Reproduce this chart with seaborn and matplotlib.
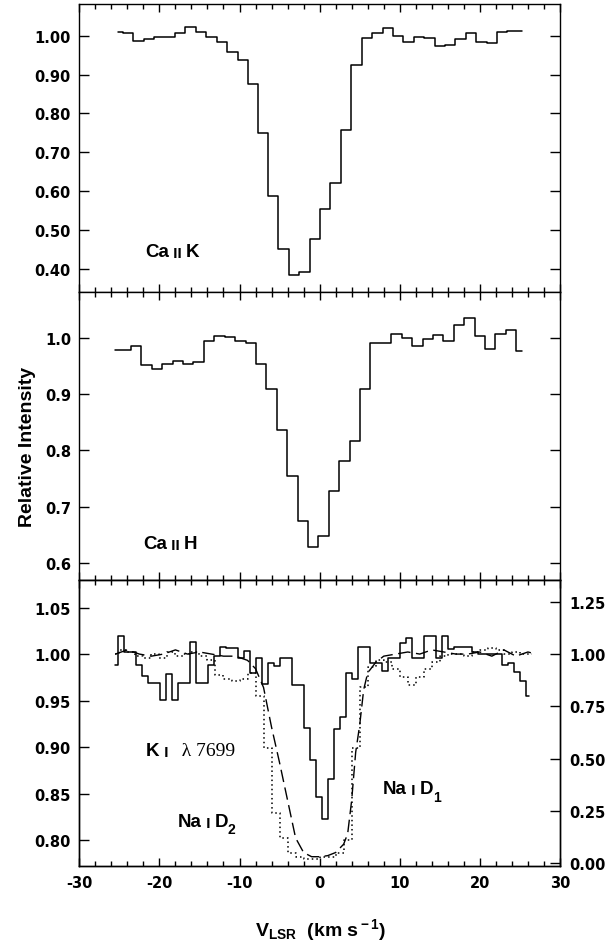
import pandas as pd
import seaborn as sns
import matplotlib.pyplot as plt
from matplotlib.ticker import MultipleLocator, FormatStrFormatter

# Ca II K spectrum (top panel)
vel_k = [-25.2, -23.9, -22.6, -21.3, -20.0, -18.7, -17.4, -16.1, -14.8, -13.5,
         -12.2, -10.9, -9.6, -8.4, -7.1, -5.8, -4.5, -3.2, -1.9, -0.6,
         0.7, 2.0, 3.3, 4.6, 5.9, 7.2, 8.5, 9.8, 11.1, 12.4,
         13.7, 15.0, 16.3, 17.6, 18.9, 20.2, 21.5, 22.8, 24.1, 25.3]
ca_k = [1.009, 1.006, 0.987, 0.991, 0.996, 0.996, 1.007, 1.023, 1.009, 0.997,
        0.983, 0.957, 0.938, 0.876, 0.751, 0.589, 0.451, 0.385, 0.391, 0.477,
        0.554, 0.620, 0.757, 0.925, 0.993, 1.007, 1.019, 0.998, 0.983, 0.997,
        0.993, 0.973, 0.977, 0.991, 1.006, 0.985, 0.981, 1.009, 1.011, 1.011]

# Ca II H spectrum (middle panel)
vel_h = [-25.5, -24.2, -22.9, -21.6, -20.3, -19.0, -17.7, -16.4, -15.1, -13.8,
         -12.5, -11.2, -9.9, -8.6, -7.3, -6.0, -4.7, -3.4, -2.1, -0.8,
         0.5, 1.8, 3.1, 4.4, 5.7, 7.0, 8.3, 9.6, 10.9, 12.2,
         13.5, 14.8, 16.1, 17.4, 18.7, 20.0, 21.3, 22.6, 23.9, 25.2]
ca_h = [0.979, 0.979, 0.985, 0.952, 0.944, 0.953, 0.960, 0.954, 0.957, 0.994,
        1.004, 1.001, 0.995, 0.991, 0.953, 0.909, 0.837, 0.755, 0.675, 0.629,
        0.647, 0.727, 0.782, 0.817, 0.910, 0.992, 0.992, 1.007, 1.000, 0.986,
        0.999, 1.006, 0.994, 1.023, 1.035, 1.003, 0.980, 1.008, 1.015, 0.977]

# K I 7699 spectrum (bottom panel, left axis)
vel_ki = [-25.60, -24.85, -24.10, -23.35, -22.60, -21.85, -21.10, -20.35, -19.60, -18.85,
          -18.10, -17.35, -16.60, -15.85, -15.10, -14.35, -13.60, -12.85, -12.10, -11.35,
          -10.60, -9.85, -9.10, -8.35, -7.60, -6.85, -6.10, -5.35, -4.60, -3.85,
          -3.10, -2.35, -1.60, -0.85, -0.10, 0.65, 1.40, 2.15, 2.90, 3.65,
          4.40, 5.15, 5.90, 6.65, 7.40, 8.15, 8.90, 9.65, 10.40, 11.15,
          11.90, 12.65, 13.40, 14.15, 14.90, 15.65, 16.40, 17.15, 17.90, 18.65,
          19.40, 20.15, 20.90, 21.65, 22.40, 23.15, 23.90, 24.65, 25.40, 26.15]
k_i = [0.988, 1.019, 1.002, 1.002, 0.988, 0.977, 0.969, 0.969, 0.951, 0.979,
       0.951, 0.969, 0.969, 1.013, 0.969, 0.969, 0.988, 0.998, 1.008, 1.007,
       1.007, 0.996, 1.003, 0.980, 0.996, 0.968, 0.991, 0.987, 0.996, 0.996,
       0.967, 0.967, 0.921, 0.886, 0.846, 0.823, 0.866, 0.920, 0.932, 0.980,
       0.973, 1.008, 1.008, 0.991, 0.991, 0.982, 0.996, 0.996, 1.012, 1.017,
       0.996, 0.996, 1.020, 1.020, 0.996, 1.019, 1.005, 1.008, 1.008, 1.008,
       1.002, 1.000, 1.000, 1.000, 1.000, 0.988, 0.991, 0.981, 0.971, 0.955]

# Na I D2 (bottom panel, right axis, dotted)
vel_d2 = [-25.5, -24.5, -23.5, -22.5, -21.5, -20.5, -19.5, -18.5, -17.5, -16.5,
          -15.5, -14.5, -13.5, -12.5, -11.5, -10.5, -9.5, -8.5, -7.5, -6.5,
          -5.5, -4.5, -3.5, -2.5, -1.5, -0.5, 0.5, 1.5, 2.5, 3.5,
          4.5, 5.5, 6.5, 7.5, 8.5, 9.5, 10.5, 11.5, 12.5, 13.5,
          14.5, 15.5, 16.5, 17.5, 18.5, 19.5, 20.5, 21.5, 22.5, 23.5,
          24.5, 25.5, 26.5]
na_d2 = [1.00, 1.02, 1.01, 0.99, 0.98, 1.00, 0.98, 1.01, 0.99, 1.00,
         1.01, 0.99, 0.97, 0.90, 0.88, 0.87, 0.88, 0.91, 0.80, 0.55,
         0.24, 0.12, 0.05, 0.03, 0.02, 0.02, 0.03, 0.03, 0.05, 0.11,
         0.55, 0.84, 0.94, 0.97, 0.96, 0.93, 0.89, 0.85, 0.89, 0.93,
         0.96, 0.99, 1.00, 1.00, 0.99, 1.01, 1.02, 1.03, 1.02, 1.00,
         1.01, 1.00, 1.00]

# Na I D1 (bottom panel, right axis, long dash)
vel_d1 = [-25.5, -24.0, -22.5, -21.0, -19.5, -18.0, -16.5, -15.0, -13.5, -12.0,
          -10.5, -9.0, -8.0, -7.0, -6.0, -5.0, -4.0, -3.0, -2.0, -1.0,
          0.0, 1.0, 2.0, 3.0, 3.5, 4.0, 4.5, 5.0, 5.5, 6.0,
          7.0, 8.0, 9.5, 11.0, 12.5, 14.0, 15.5, 17.0, 18.5, 20.0,
          21.5, 23.0, 24.5, 26.0, 27.0]
na_d1 = [1.00, 1.02, 1.00, 0.99, 1.00, 1.02, 1.00, 1.01, 1.00, 0.99,
         0.99, 0.97, 0.93, 0.84, 0.65, 0.48, 0.30, 0.12, 0.05, 0.03,
         0.03, 0.035, 0.05, 0.09, 0.14, 0.30, 0.53, 0.66, 0.83, 0.91,
         0.96, 0.99, 1.00, 1.01, 1.00, 1.02, 1.01, 1.00, 1.00, 1.01,
         0.99, 1.02, 0.99, 1.01, 1.00]

sns.set_style('ticks')
plt.rcParams['font.family'] = ['Liberation Sans', 'DejaVu Sans']
plt.rcParams['font.weight'] = 'bold'
plt.rcParams['text.color'] = 'black'
plt.rcParams['axes.labelcolor'] = 'black'
plt.rcParams['xtick.color'] = 'black'
plt.rcParams['ytick.color'] = 'black'
plt.rcParams['axes.unicode_minus'] = False
plt.rcParams['mathtext.fontset'] = 'custom'
plt.rcParams['mathtext.rm'] = 'Liberation Sans:bold'
plt.rcParams['mathtext.bf'] = 'Liberation Sans:bold'
plt.rcParams['mathtext.it'] = 'Liberation Sans:bold'
plt.rcParams['axes.linewidth'] = 1.0
plt.rcParams['axes.edgecolor'] = 'black'

fig = plt.figure(figsize=(6.08, 9.45), dpi=100)
ax1 = fig.add_axes([0.1304, 0.6896, 0.7906, 0.3051])
ax2 = fig.add_axes([0.1304, 0.3855, 0.7906, 0.3041], sharex=ax1)
ax3 = fig.add_axes([0.1304, 0.0822, 0.7906, 0.3033], sharex=ax1)


def style(ax, right=True):
    ax.tick_params(which='both', direction='in', top=True, right=right,
                   colors='black', width=1.0, labelsize=10.5,
                   labelfontfamily='DejaVu Sans')
    ax.tick_params(axis='y', which='major', length=7.5, pad=6)
    ax.tick_params(axis='x', which='major', length=6, pad=6)
    ax.tick_params(axis='x', which='minor', length=3.5)
    ax.xaxis.set_major_locator(MultipleLocator(10))
    ax.xaxis.set_minor_locator(MultipleLocator(2))
    ax.set_xlabel('')
    ax.set_ylabel('')


def step(ax, v, y, **kw):
    d = pd.DataFrame({'v': v, 'I': y})
    sns.lineplot(data=d, x='v', y='I', ax=ax, color='black', estimator=None,
                 sort=False, drawstyle='steps-mid', **kw)


def label(ax, x, y, parts):
    # write a label piece by piece so the roman numeral can be smaller
    s, fs, kw = parts[0]
    t = ax.text(x, y, s, fontsize=fs, va='bottom', ha='left', **kw)
    for s, fs, kw in parts[1:]:
        va = kw.pop('va', 'bottom')
        yy = kw.pop('yy', 0.0)
        t = ax.annotate(s, xy=(1.0, yy), xycoords=t, fontsize=fs,
                        va=va, ha='left', **kw)


# top panel
step(ax1, vel_k, ca_k, lw=1.1)
ax1.set_xlim(-30, 30)
ax1.set_ylim(0.340, 1.0815)
ax1.yaxis.set_major_locator(MultipleLocator(0.1))
ax1.yaxis.set_major_formatter(FormatStrFormatter('%.2f'))
style(ax1)
ax1.tick_params(labelbottom=False)
label(ax1, -21.8, 0.422, [('Ca', 13.5, {}), (' II ', 11, {}), ('K', 13.5, {})])

# middle panel
step(ax2, vel_h, ca_h, lw=1.1)
ax2.set_ylim(0.570, 1.0813)
ax2.yaxis.set_major_locator(MultipleLocator(0.1))
ax2.yaxis.set_major_formatter(FormatStrFormatter('%.1f'))
style(ax2)
ax2.tick_params(labelbottom=False)
label(ax2, -22.0, 0.620, [('Ca', 13.5, {}), (' II ', 11, {}), ('H', 13.5, {})])

# bottom panel
step(ax3, vel_ki, k_i, lw=1.1)
ax3.set_ylim(0.772, 1.080)
ax3.yaxis.set_major_locator(MultipleLocator(0.05))
ax3.yaxis.set_major_formatter(FormatStrFormatter('%.2f'))
style(ax3, right=False)

ax3r = ax3.twinx()
step(ax3r, vel_d2, na_d2, lw=1.1)
ax3r.lines[-1].set_linestyle((0, (1, 2)))
d1 = pd.DataFrame({'v': vel_d1, 'I': na_d1})
sns.lineplot(data=d1, x='v', y='I', ax=ax3r, color='black', estimator=None,
             sort=False, lw=1.0)
ax3r.lines[-1].set_dashes([9, 4])
ax3r.set_ylim(-0.016, 1.356)
ax3r.yaxis.set_major_locator(MultipleLocator(0.25))
ax3r.yaxis.set_major_formatter(FormatStrFormatter('%.2f'))
ax3r.tick_params(axis='y', direction='in', left=False, right=True, length=7.5,
                 width=1.0, pad=7, labelsize=10.5, labelfontfamily='DejaVu Sans',
                 colors='black')
ax3r.set_ylabel('')
ax3.set_xlim(-30, 30)

label(ax3, -21.65, 0.887, [('K', 13.5, {}), (' I ', 11, {}),
                           ('  \u03bb 7699', 14, {'family': 'Liberation Serif',
                                                  'fontweight': 'normal'})])
label(ax3, 7.9, 0.846, [('Na', 13.5, {}), (' I ', 11, {}), ('D', 13.5, {}),
                        ('1', 10, {'va': 'center', 'yy': 0.05})])
label(ax3, -17.7, 0.811, [('Na', 13.5, {}), (' I ', 11, {}), ('D', 13.5, {}),
                          ('2', 10, {'va': 'center', 'yy': 0.05})])

fig.text(0.045, 1 - 447 / 945, 'Relative Intensity', rotation=90, ha='center',
         va='center', fontsize=14, fontweight='bold',
         family=['Liberation Sans Narrow', 'Liberation Sans'])
fig.text(321 / 608, 1 - 936 / 945, r'V$_{\rm LSR}$  (km s$^{\rm -1}$)',
         ha='center', va='baseline', fontsize=14, fontweight='bold')

fig.savefig('out.png', dpi=100)
